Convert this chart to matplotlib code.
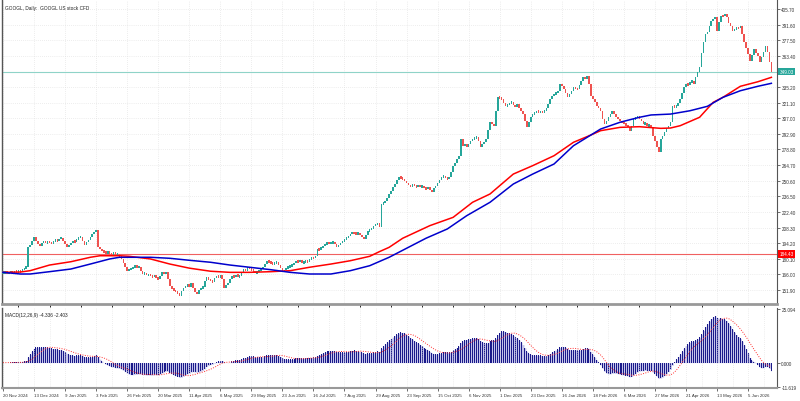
import numpy as np
import pandas as pd
import matplotlib.pyplot as plt

# daily closes (20 Nov 2024 -> mid Jun 2026)
closes = np.array([
    167.5, 168.2, 166.8, 167.9, 168.5, 167.6, 168.9, 168.1, 169.0, 168.4,
    170.2, 171.5, 173.0, 190.8, 192.5, 196.0, 199.7, 195.8, 193.2, 191.5,
    194.0, 196.2, 193.9, 195.5, 195.0, 193.6, 196.4, 197.1, 195.9, 198.2,
    199.0, 196.1, 193.0, 190.7, 192.4, 194.1, 196.0, 195.0, 197.8, 199.3,
    199.7, 196.5, 192.5, 194.8, 197.3, 199.6, 202.0, 204.3, 206.0, 190.7,
    188.5, 187.2, 186.0, 185.1, 186.4, 184.9, 184.3, 185.6, 183.9, 184.8,
    182.1, 180.0, 176.5, 172.8, 169.0, 170.6, 171.4, 172.0, 174.2, 171.8,
    173.0, 169.3, 166.0, 167.4, 165.1, 166.2, 164.5, 163.8, 165.3, 163.0,
    161.8, 164.9, 168.0, 166.7, 168.0, 161.5, 155.5, 153.2, 151.6, 150.0,
    149.0, 146.5, 151.3, 153.8, 155.0, 156.9, 154.2, 158.0, 153.6, 150.0,
    148.0, 151.7, 153.4, 155.0, 160.1, 163.6, 161.2, 160.3, 159.0, 162.4,
    164.5, 163.3, 165.0, 162.0, 153.7, 156.1, 158.0, 161.9, 164.5, 163.2,
    165.8, 163.9, 164.5, 167.7, 170.8, 169.4, 172.6, 171.0, 170.1, 169.0,
    167.3, 168.0, 169.8, 171.1, 172.6, 175.4, 178.0, 177.2, 176.1, 175.3,
    176.5, 177.0, 174.1, 171.6, 168.0, 169.9, 171.7, 172.5, 173.8, 174.5,
    176.3, 178.0, 177.1, 178.6, 176.4, 177.0, 178.2, 176.9, 179.8, 181.0,
    180.4, 182.6, 189.0, 188.1, 190.2, 191.6, 193.0, 195.0, 193.9, 194.3,
    195.0, 193.5, 190.7, 192.8, 194.1, 196.0, 197.4, 199.1, 200.6, 202.4,
    204.0, 203.2, 202.5, 203.0, 201.5, 199.7, 198.0, 201.9, 205.0, 206.3,
    207.2, 209.7, 211.0, 212.4, 209.0, 229.5, 230.8, 232.0, 235.4, 238.6,
    241.2, 244.9, 247.6, 251.0, 253.9, 252.8, 252.0, 250.4, 248.5, 246.7,
    245.0, 247.6, 246.3, 244.8, 247.1, 245.0, 246.0, 244.2, 243.0, 245.1,
    242.5, 240.4, 243.8, 246.0, 248.5, 251.6, 253.9, 255.0, 253.4, 252.0,
    253.9, 258.2, 263.9, 266.5, 270.0, 272.5, 288.3, 282.0, 283.6, 281.0,
    284.2, 286.5, 288.1, 289.0, 290.0, 286.3, 281.0, 283.5, 285.6, 288.3,
    296.0, 303.6, 301.5, 300.0, 313.6, 326.2, 325.0, 324.4, 321.2, 318.0,
    319.4, 320.6, 321.7, 319.1, 317.2, 320.0, 316.4, 313.2, 310.8, 304.5,
    299.0, 303.4, 308.0, 310.5, 312.1, 313.6, 312.7, 313.0, 312.5, 314.0,
    316.3, 319.5, 324.4, 327.0, 328.9, 330.2, 331.6, 338.0, 335.9, 333.4,
    330.1, 326.2, 329.3, 331.6, 335.2, 334.0, 333.4, 336.8, 340.7, 344.3,
    342.5, 345.2, 338.0, 327.0, 324.4, 321.8, 318.0, 316.1, 313.6, 306.3,
    301.8, 304.9, 308.0, 311.2, 313.6, 310.8, 308.4, 306.3, 304.5, 303.0,
    302.2, 300.9, 299.0, 295.5, 300.4, 306.3, 307.5, 309.0, 306.0, 304.5,
    301.8, 303.0, 300.0, 300.8, 299.0, 291.0, 286.5, 281.2, 276.5, 288.3,
    291.0, 294.6, 298.2, 300.0, 303.6, 318.0, 317.2, 318.0, 321.1, 324.4,
    330.0, 335.2, 338.0, 337.1, 339.7, 340.5, 338.0, 344.0, 348.8, 353.3,
    366.0, 375.9, 383.0, 384.9, 390.2, 394.9, 396.4, 398.5, 386.0, 393.7,
    399.4, 399.0, 401.2, 398.5, 393.0, 390.3, 386.0, 387.6, 389.0, 388.2,
    390.3, 383.0, 375.9, 370.4, 365.0, 358.7, 364.1, 369.6, 366.0, 363.2,
    357.8, 362.5, 366.8, 372.3, 366.8, 357.8, 349.03,
])

date_labels = ['20 Nov 2024', '13 Dec 2024', '9 Jan 2025', '3 Feb 2025', '26 Feb 2025',
               '20 Mar 2025', '11 Apr 2025', '6 May 2025', '29 May 2025', '23 Jun 2025',
               '16 Jul 2025', '7 Aug 2025', '29 Aug 2025', '23 Sep 2025', '15 Oct 2025',
               '6 Nov 2025', '1 Dec 2025', '23 Dec 2025', '16 Jan 2026', '18 Feb 2026',
               '6 Mar 2026', '27 Mar 2026', '21 Apr 2026', '13 May 2026', '5 Jun 2026']

# moving average lines (bar index, price)
red_ma_bar = [0, 9, 14, 24, 35, 45, 50, 60, 65, 76, 86, 96, 107, 117, 127, 138, 148,
              158, 169, 179, 189, 194, 199, 206, 220, 232, 242, 251, 263, 273, 284,
              294, 303, 308, 318, 328, 339, 344, 349, 359, 366, 371, 380, 389, 396]
red_ma = [167.8, 168.1, 169.3, 174.4, 177.4, 181.4, 182.8, 182.8, 182.3, 179.9, 175.3,
          171.6, 168.8, 167.8, 167.8, 168.4, 169.3, 172.4, 175.3, 178.3, 182.3, 186.5,
          190.4, 198.6, 210.0, 217.5, 231.1, 238.6, 256.6, 264.2, 273.2, 285.3, 291.9,
          295.8, 298.8, 299.4, 297.9, 298.2, 300.3, 307.9, 321.4, 325.9, 335.9, 340.0,
          344.0]
blue_ma_bar = [0, 9, 14, 24, 35, 45, 55, 60, 76, 86, 96, 107, 117, 127, 138, 148, 158,
               169, 179, 189, 199, 218, 229, 239, 251, 263, 273, 284, 294, 303, 308,
               318, 328, 334, 344, 354, 363, 371, 380, 389, 396]
blue_ma = [167.8, 166.3, 166.3, 168.4, 170.8, 175.3, 179.9, 181.4, 181.4, 180.5, 178.7,
           176.9, 174.4, 172.4, 170.2, 167.8, 166.3, 166.3, 169.3, 173.8, 181.4, 198.6,
           207.0, 219.0, 231.1, 247.6, 256.6, 265.7, 282.2, 291.9, 297.3, 303.4, 307.9,
           310.0, 310.8, 313.8, 317.8, 325.9, 331.9, 335.9, 338.6]

price_ticks = [151.90, 166.00, 180.10, 194.20, 208.30, 222.40, 236.50, 250.60, 264.70,
               278.80, 292.90, 307.00, 321.10, 335.20, 363.40, 377.50, 391.60, 405.70]
macd_ticks = [-11.619, 0.0, 25.094]
red_level = 184.43

bull = '#26a69a'
bear = '#ef5350'

n = len(closes)
x = np.arange(n)
opens = np.r_[closes[0], closes[:-1]]

s = pd.Series(closes)
macd = (s.ewm(span=12, adjust=False).mean() - s.ewm(span=26, adjust=False).mean()).values
signal = pd.Series(macd).rolling(9, min_periods=1).mean().values

plt.rcParams['font.family'] = ['Liberation Sans', 'DejaVu Sans']
fig = plt.figure(figsize=(8, 4.02), dpi=100)
ax = fig.add_axes([0.0025, 0.2413, 0.969, 0.756])
ax2 = fig.add_axes([0.0025, 0.0323, 0.969, 0.199], sharex=ax)

# candles
up = closes >= opens
mid = (opens + closes) / 2
height = np.maximum(np.abs(closes - opens), 2.2)
ax.bar(x, height, bottom=mid - height / 2, width=0.8, color=np.where(up, bull, bear),
       linewidth=0, zorder=3)

ax.plot(red_ma_bar, red_ma, color='#ff0000', lw=1.1, zorder=4)
ax.plot(blue_ma_bar, blue_ma, color='#0000cc', lw=1.1, zorder=4)

ax.axhline(closes[-1], color='#8fd3c8', lw=0.8, zorder=2)
ax.axhline(red_level, color='#f06060', lw=0.8, zorder=2)

ax.set_xlim(-0.5, 399)
ax.set_ylim(139.2, 413.8)
ax.set_yticks(price_ticks)
ax.set_yticklabels([f'{t:.2f}' for t in price_ticks])
ax.yaxis.tick_right()
ax.tick_params(axis='y', labelsize=3.3, length=2, width=0.5, pad=1, colors='#333333')
ax.tick_params(axis='x', bottom=False, labelbottom=False)
ax.set_xticks(np.arange(0, n, 8))
ax.grid(True, color='#dcdcdc', lw=0.5, ls=(0, (1, 2)))

for a in (ax, ax2):
    a.spines['top'].set_visible(False)
    a.spines['left'].set_color('#555555')
    a.spines['right'].set_color('#555555')
    a.spines['left'].set_linewidth(1.0)
    a.spines['right'].set_linewidth(0.8)
ax.spines['bottom'].set_color('#999999')
ax.spines['bottom'].set_linewidth(2)

ax.text(0.004, 0.985, 'GOOGL, Daily:  GOOGL US stock CFD', transform=ax.transAxes,
        fontsize=3.4, va='top', ha='left', color='#222222')

ax.annotate(f'{closes[-1]:.2f}', xy=(1.0, closes[-1]), xycoords=('axes fraction', 'data'),
            xytext=(1.5, 0), textcoords='offset points', fontsize=3.3, color='white',
            va='center', ha='left', annotation_clip=False,
            bbox=dict(boxstyle='square,pad=0.25', fc=bull, ec='none'))
ax.annotate(f'{red_level:.2f}', xy=(1.0, red_level), xycoords=('axes fraction', 'data'),
            xytext=(1.5, 0), textcoords='offset points', fontsize=3.3, color='white',
            va='center', ha='left', annotation_clip=False,
            bbox=dict(boxstyle='square,pad=0.25', fc='#ff0000', ec='none'))

# MACD panel
ax2.fill_between(x, 0, macd, color='#8a8ad6', alpha=0.5, lw=0, step='mid')
ax2.bar(x, macd, width=0.5, color='#1a1a8a', linewidth=0)
ax2.plot(x, signal, color='#ff3030', lw=0.7, ls=(0, (1, 1.5)))
ax2.set_ylim(-11.9, 25.6)
ax2.set_yticks(macd_ticks)
ax2.set_yticklabels([f'{t:.3f}' for t in macd_ticks])
ax2.yaxis.tick_right()
ax2.tick_params(axis='y', labelsize=3.3, length=2, width=0.5, pad=1, colors='#333333')
ax2.set_xticks(np.arange(0, n, 16)[:len(date_labels)])
ax2.set_xticklabels(date_labels, ha='left')
ax2.set_xticks(np.arange(0, n, 8), minor=True)
ax2.tick_params(axis='x', labelsize=3.2, length=2.5, width=0.5, pad=1, colors='#333333')
ax2.tick_params(axis='x', which='minor', length=0)
ax2.grid(True, which='both', axis='x', color='#dcdcdc', lw=0.5, ls=(0, (1, 2)))
ax2.spines['bottom'].set_color('#999999')
ax2.spines['bottom'].set_linewidth(1.5)
ax2.text(0.004, 0.95, 'MACD(12,26,9) -4.336 -2.403', transform=ax2.transAxes,
         fontsize=3.4, va='top', ha='left', color='#222222')

fig.savefig('out.png', dpi=100)
